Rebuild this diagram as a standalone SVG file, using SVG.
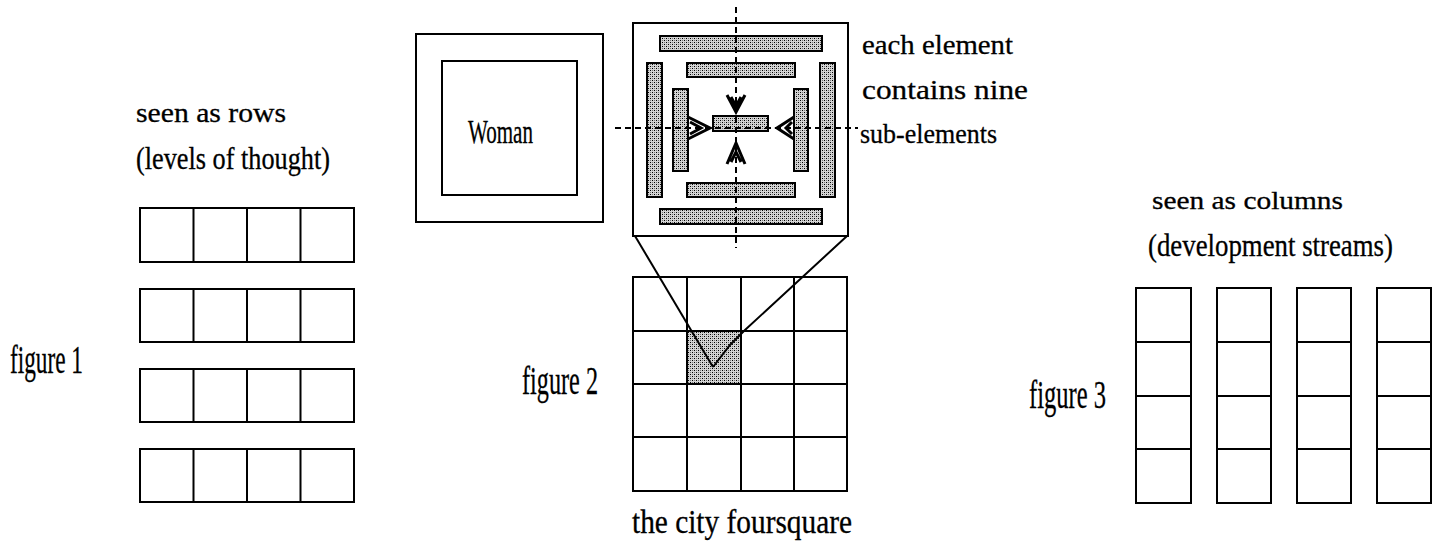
<svg xmlns="http://www.w3.org/2000/svg" width="1444" height="546" viewBox="0 0 1444 546">
<style>
.box{fill:#fff;stroke:#000;stroke-width:2}
.ln{stroke:#000;stroke-width:2;fill:none}
.bar{fill:url(#dots);stroke:#000;stroke-width:2}
.dash{stroke:#000;stroke-width:2;stroke-dasharray:6 4;fill:none}
.arr{stroke:#000;stroke-width:3;fill:none;stroke-linejoin:miter}
.t{font-family:"Liberation Serif","Times New Roman",serif;fill:#000;stroke:#000;stroke-width:0.3}
</style>
<defs>
<pattern id="dots" width="4" height="4" patternUnits="userSpaceOnUse">
<rect width="4" height="4" fill="#d4d4d4"/>
<rect x="0" y="0" width="1" height="1" fill="#000"/>
<rect x="2" y="2" width="1" height="1" fill="#000"/>
<rect x="2" y="0" width="1" height="1" fill="#777"/>
<rect x="0" y="2" width="1" height="1" fill="#777"/>
</pattern>
</defs>
<rect width="1444" height="546" fill="#fff"/>

<g id="figure1">
<text class="t" x="136" y="122" font-size="27" textLength="150" lengthAdjust="spacingAndGlyphs">seen as rows</text>
<text class="t" x="136" y="169" font-size="31" textLength="194" lengthAdjust="spacingAndGlyphs">(levels of thought)</text>
<text class="t" x="10" y="373" font-size="40" textLength="73" lengthAdjust="spacingAndGlyphs">figure 1</text>
<g id="row1"><rect class="box" x="140" y="208" width="214" height="54"/><path class="ln" d="M193.5,208V262M247,208V262M300.5,208V262"/></g>
<g id="row2"><rect class="box" x="140" y="289" width="214" height="53"/><path class="ln" d="M193.5,289V342M247,289V342M300.5,289V342"/></g>
<g id="row3"><rect class="box" x="140" y="369" width="214" height="53"/><path class="ln" d="M193.5,369V422M247,369V422M300.5,369V422"/></g>
<g id="row4"><rect class="box" x="140" y="449" width="214" height="53"/><path class="ln" d="M193.5,449V502M247,449V502M300.5,449V502"/></g>
</g>

<g id="woman">
<rect class="box" x="416" y="34" width="187" height="188"/>
<rect class="box" x="442" y="61" width="135" height="134"/>
<text class="t" x="468" y="143" font-size="34" textLength="65" lengthAdjust="spacingAndGlyphs">Woman</text>
</g>

<g id="element-detail">
<rect class="box" x="633" y="23" width="215" height="213"/>
<rect class="bar" x="660" y="36" width="162" height="15"/>
<rect class="bar" x="687" y="63" width="108" height="14"/>
<rect class="bar" x="647" y="63" width="15" height="134"/>
<rect class="bar" x="673" y="89" width="15" height="82"/>
<rect class="bar" x="713" y="116" width="55" height="15"/>
<rect class="bar" x="794" y="89" width="14" height="82"/>
<rect class="bar" x="820" y="63" width="15" height="134"/>
<rect class="bar" x="687" y="183" width="108" height="14"/>
<rect class="bar" x="660" y="209" width="162" height="15"/>
</g>

<g id="detail-label">
<text class="t" x="862" y="54" font-size="28" textLength="151" lengthAdjust="spacingAndGlyphs">each element</text>
<text class="t" x="862" y="99" font-size="28" textLength="166" lengthAdjust="spacingAndGlyphs">contains nine</text>
<text class="t" x="860" y="143" font-size="28" textLength="137" lengthAdjust="spacingAndGlyphs">sub-elements</text>
</g>

<g id="figure2">
<rect x="687" y="331" width="54" height="53" fill="url(#dots)"/>
<rect x="633" y="277" width="214" height="214" style="fill:none;stroke:#000;stroke-width:2"/>
<path class="ln" d="M687,277V491M741,277V491M794,277V491M633,331H847M633,384H847M633,437H847"/>
<text class="t" x="522" y="394" font-size="40" textLength="76" lengthAdjust="spacingAndGlyphs">figure 2</text>
<text class="t" x="632" y="533" font-size="33" textLength="220" lengthAdjust="spacingAndGlyphs">the city foursquare</text>
</g>

<g id="figure3">
<text class="t" x="1152" y="209" font-size="26" textLength="191" lengthAdjust="spacingAndGlyphs">seen as columns</text>
<text class="t" x="1148" y="256" font-size="31" textLength="245" lengthAdjust="spacingAndGlyphs">(development streams)</text>
<text class="t" x="1029" y="408" font-size="40" textLength="77" lengthAdjust="spacingAndGlyphs">figure 3</text>
<g id="col1"><rect class="box" x="1136" y="288" width="55" height="215"/><path class="ln" d="M1136,342H1191M1136,396H1191M1136,449H1191"/></g>
<g id="col2"><rect class="box" x="1217" y="288" width="54" height="215"/><path class="ln" d="M1217,342H1271M1217,396H1271M1217,449H1271"/></g>
<g id="col3"><rect class="box" x="1297" y="288" width="54" height="215"/><path class="ln" d="M1297,342H1351M1297,396H1351M1297,449H1351"/></g>
<g id="col4"><rect class="box" x="1377" y="288" width="54" height="215"/><path class="ln" d="M1377,342H1431M1377,396H1431M1377,449H1431"/></g>
</g>

<g id="connectors">
<path class="dash" d="M736,7V248"/>
<path class="dash" d="M615,128H858"/>
<path class="arr" d="M727,95L736,112L745,95M731,97L736,106L741,97"/>
<path class="arr" d="M727,164L736,143L745,164M731,162L736,152L741,162"/>
<path class="arr" d="M688,117L710,128L688,139M690,122L701,128L690,134"/>
<path class="arr" d="M794,117L777,128L794,139M792,122L786,128L792,134"/>
<path class="ln" d="M635,236L713,367"/>
<path class="ln" d="M847,236L745,330L730,345L713,367"/>
</g>
</svg>
